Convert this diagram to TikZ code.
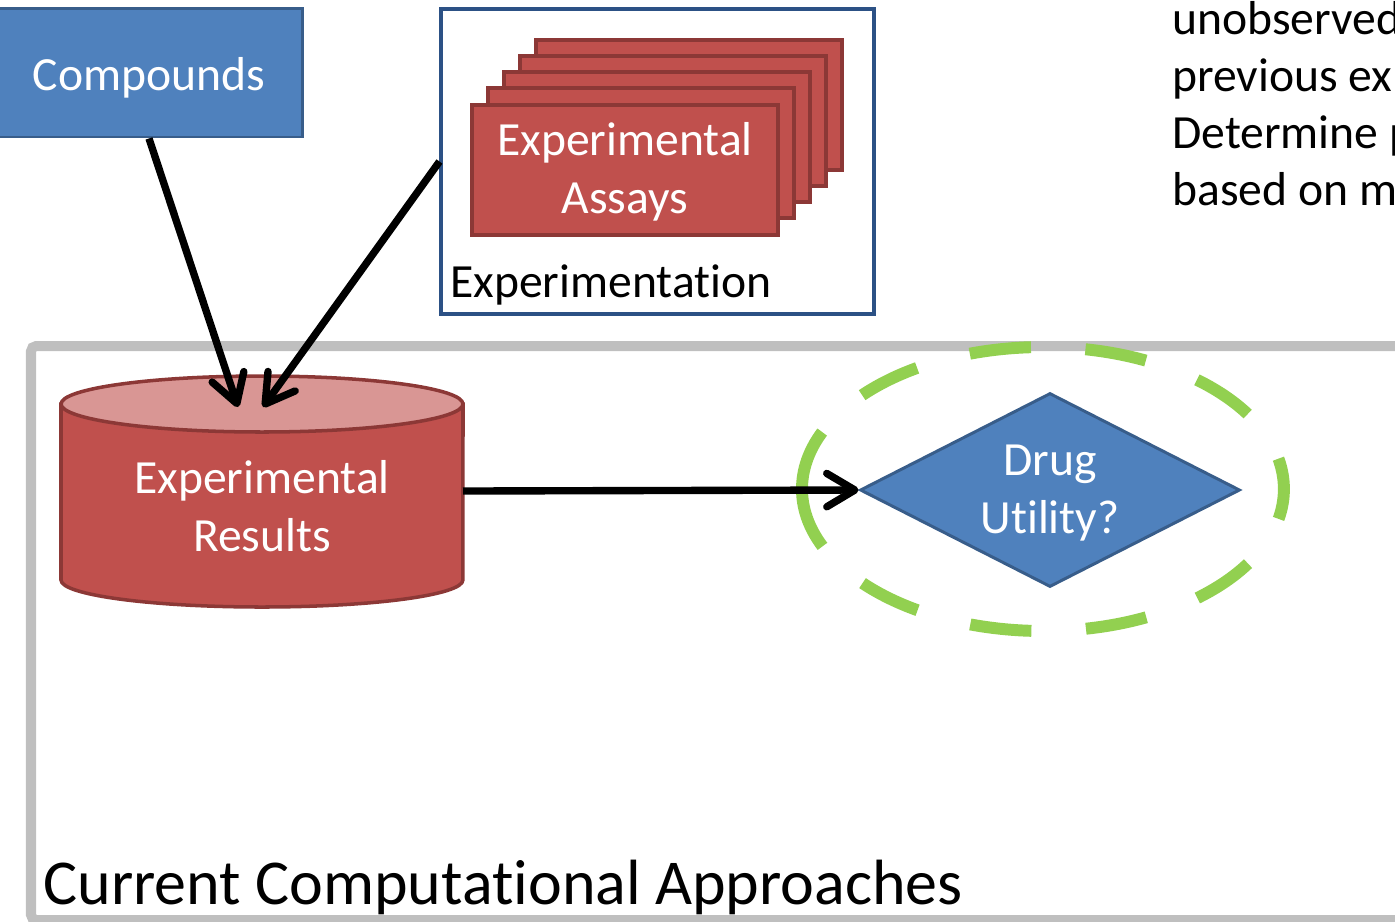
\documentclass[tikz,border=0pt]{standalone}
\usepackage{fontspec}
\setmainfont{Carlito}[Ligatures={NoCommon,NoRequired,NoContextual}]
\usepackage{tikz}
\usetikzlibrary{positioning,shapes.geometric,arrows.meta}
\usepackage{xcolor}
\definecolor{boxblue}{HTML}{4F81BD}
\definecolor{boxblueline}{HTML}{385D8A}
\definecolor{boxred}{HTML}{C0504D}
\definecolor{boxredline}{HTML}{8C3836}
\definecolor{boxredtop}{HTML}{D99694}
\definecolor{framenavy}{HTML}{2C5185}
\definecolor{ringgreen}{HTML}{92D050}
\definecolor{framegray}{HTML}{BFBFBF}

\begin{document}
\begin{tikzpicture}[x=0.02cm, y=0.02cm,
  every node/.style = {inner sep=0pt, font=\fontsize{27.1}{33}\selectfont},
  twolines/.style = {align=center, text height=54.5pt, text depth=5pt},
  bluebox/.style = {shape=rectangle, draw=boxblueline, fill=boxblue,
	line width=1.7pt, text=white},
  assay/.style = {shape=rectangle, draw=boxredline, fill=boxred, line width=2pt,
	minimum width=6.12cm, minimum height=2.6cm, text=white},
  cylbody/.style = {draw=boxredline, fill=boxred, line width=2pt},
  cyltop/.style = {draw=boxredline, fill=boxredtop, line width=2pt},
  flow/.style = {line width=4.2pt,
	-{Straight Barb[length=16pt, width=19pt, line cap=round, line join=round]}},
  ring/.style = {draw=ringgreen, line width=6.8pt, dash pattern=on 35pt off 31.1pt}]

\useasboundingbox (0,0) rectangle (1395,-921);

% outer frame
\draw[framegray, line width=5.7pt, rounded corners=3pt] (31,-346) rectangle (1440,-920);

\node[bluebox, minimum width=6.16cm, minimum height=2.58cm, text height=25pt, text depth=5pt]
	 (compounds) at (149,-72.5) {Compounds};

\node[draw=framenavy, fill=white, line width=1.8pt,
	 minimum width=8.66cm, minimum height=6.1cm] (expframe) at (657.5,-161.5) {};
\foreach \k in {4,3,2,1}
	 \node[assay] (assay\k) at ({625+16*\k},{-169+16*\k}) {};
\node[assay, twolines] (assays) at (625,-170) {Experimental\\Assays};
\node[anchor=base west] (explabel) at (450,-297) {Experimentation};

% database cylinder
\draw[cylbody] (61,-404) -- (61,-580)
	 arc[start angle=180, end angle=360, x radius=4.02cm, y radius=0.54cm]
	 -- (463,-404) -- cycle;
\draw[cyltop] (262,-404) ellipse[x radius=4.02cm, y radius=0.56cm];
\node[text=white, twolines] (results) at (262,-508) {Experimental\\Results};
\coordinate (resin1) at (238,-407);
\coordinate (resin2) at (263,-407);
\coordinate (resout) at (463,-491);

\draw[ring] (802,-489) arc[start angle=180, end angle=-180, x radius=4.82cm, y radius=2.84cm];
\node[diamond, draw=boxblueline, fill=boxblue, line width=1.7pt, text=white,
	 twolines, aspect=1.96, minimum width=7.6cm, minimum height=3.88cm]
	 (drug) at (1050,-490) {Drug\\Utility?};

\draw[flow] (compounds.south) -- (resin1);
\draw[flow] (expframe.west) -- (resin2);
\draw[flow] (resout) -- (drug.west);

\node[anchor=base west, font=\fontsize{36.4}{43}\selectfont]
	 (approaches) at (43,-904) {Current Computational Approaches};
\node[anchor=base west, align=left, font=\fontsize{27.1}{32.4}\selectfont]
	 (note) at (1172,-205) {unobserved\\previous exp\\Determine p\\based on m};
\end{tikzpicture}
\end{document}
